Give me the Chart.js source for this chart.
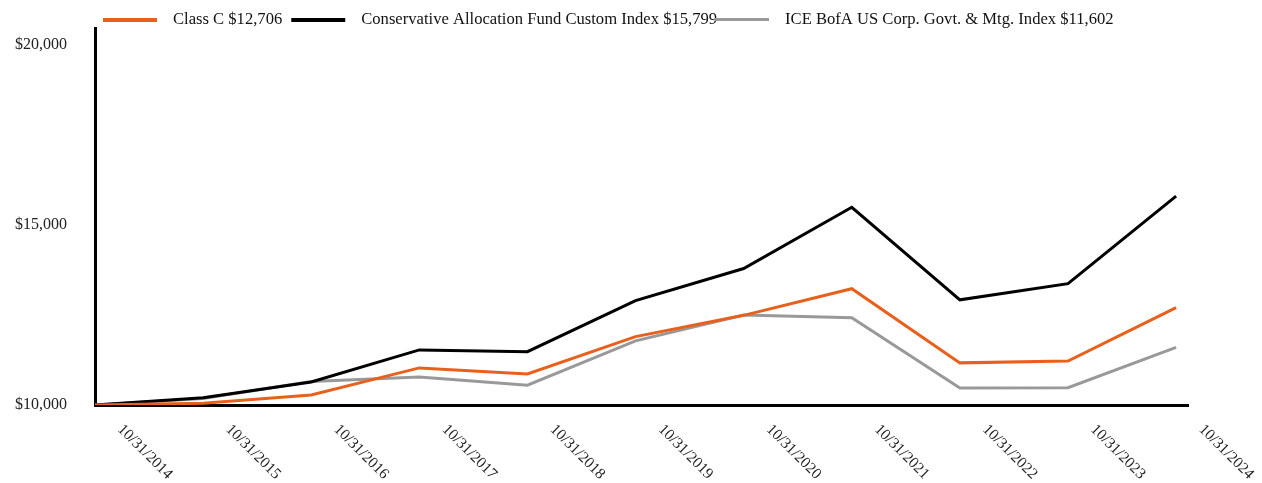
<!DOCTYPE html>
<html>
<head>
<meta charset="utf-8">
<script src="https://cdn.jsdelivr.net/npm/chart.js@4"></script>
<style>
  body { margin: 0; background: #fff; }
</style>
</head>
<body>
<canvas id="growthChart" width="1262" height="483"></canvas>
<script>
const dates = ['10/31/2014', '10/31/2015', '10/31/2016', '10/31/2017', '10/31/2018', '10/31/2019',
  '10/31/2020', '10/31/2021', '10/31/2022', '10/31/2023', '10/31/2024'];
const classC = [10000, 10050, 10280, 11030, 10860, 11900, 12490, 13230, 11170, 11220, 12706];
const customIndex = [10000, 10200, 10640, 11530, 11480, 12900, 13790, 15490, 12920, 13370, 15799];
const iceIndex = [10000, 10180, 10650, 10780, 10550, 11780, 12500, 12420, 10470, 10480, 11602];
const yTicks = [10000, 15000, 20000];

const serif = '"Liberation Serif", "Times New Roman", serif';

const toPoints = arr => arr.map((v, i) => ({ x: i, y: v }));
const money = v => '$' + v.toLocaleString('en-US');

// legend row: short line swatch followed by the series name
const lineLegend = {
  id: 'lineLegend',
  afterDraw(chart) {
    const { ctx } = chart;
    ctx.save();
    ctx.font = '16.6px ' + serif;
    ctx.textAlign = 'left';
    ctx.textBaseline = 'middle';
    let x = 103;
    const y = 20;
    chart.data.datasets.forEach(ds => {
      ctx.fillStyle = ds.borderColor;
      ctx.fillRect(x, y - 2, 54, ds.legendWidth);
      x += 54 + 16;
      ctx.fillStyle = '#111';
      ctx.fillText(ds.label, x, y);
      x += ctx.measureText(ds.label).width + ds.legendGap;
    });
    ctx.restore();
  }
};

// rotated date labels running down to the right under each point
const dateLabels = {
  id: 'dateLabels',
  afterDraw(chart) {
    const { ctx, scales: { x }, chartArea } = chart;
    ctx.save();
    ctx.font = '15.5px ' + serif;
    ctx.fillStyle = '#222';
    ctx.textAlign = 'left';
    ctx.textBaseline = 'middle';
    dates.forEach((d, i) => {
      const px = x.getPixelForValue(i);
      ctx.save();
      ctx.translate(px + 25, chartArea.bottom + 22);
      ctx.rotate(Math.PI / 4);
      ctx.fillText(d, 0, 0);
      ctx.restore();
    });
    ctx.restore();
  }
};

new Chart(document.getElementById('growthChart'), {
  type: 'line',
  data: {
    datasets: [
      { label: 'Class C ' + money(12706), data: toPoints(classC), borderColor: '#e8601c', legendWidth: 4, legendGap: 9 },
      { label: 'Conservative Allocation Fund Custom Index ' + money(15799), data: toPoints(customIndex), borderColor: '#000', legendWidth: 4, legendGap: -2 },
      { label: 'ICE BofA US Corp. Govt. & Mtg. Index ' + money(11602), data: toPoints(iceIndex), borderColor: '#999', legendWidth: 3, legendGap: 0 }
    ]
  },
  options: {
    responsive: false,
    animation: false,
    layout: { padding: { left: 13, right: 74, top: 28, bottom: 78 } },
    elements: {
      line: { borderWidth: 3, tension: 0 },
      point: { radius: 0 }
    },
    plugins: {
      tooltip: { enabled: false },
      legend: { display: false }
    },
    scales: {
      x: {
        type: 'linear',
        min: 0,
        max: 10.11,
        grid: { display: false, drawTicks: false },
        border: { display: true, color: '#000', width: 3 },
        ticks: { display: false }
      },
      y: {
        min: 10000,
        max: 20470,
        grid: { display: false, drawTicks: false },
        border: { display: true, color: '#000', width: 3 },
        afterBuildTicks: axis => { axis.ticks = yTicks.map(v => ({ value: v })); },
        afterFit: axis => {
          axis.width = 82;
          axis.paddingTop = 0;
          axis.paddingBottom = 0;
        },
        ticks: {
          padding: 28,
          color: '#222',
          font: { family: serif, size: 16 },
          callback: v => money(v)
        }
      }
    }
  },
  plugins: [lineLegend, dateLabels]
});
</script>
</body>
</html>
